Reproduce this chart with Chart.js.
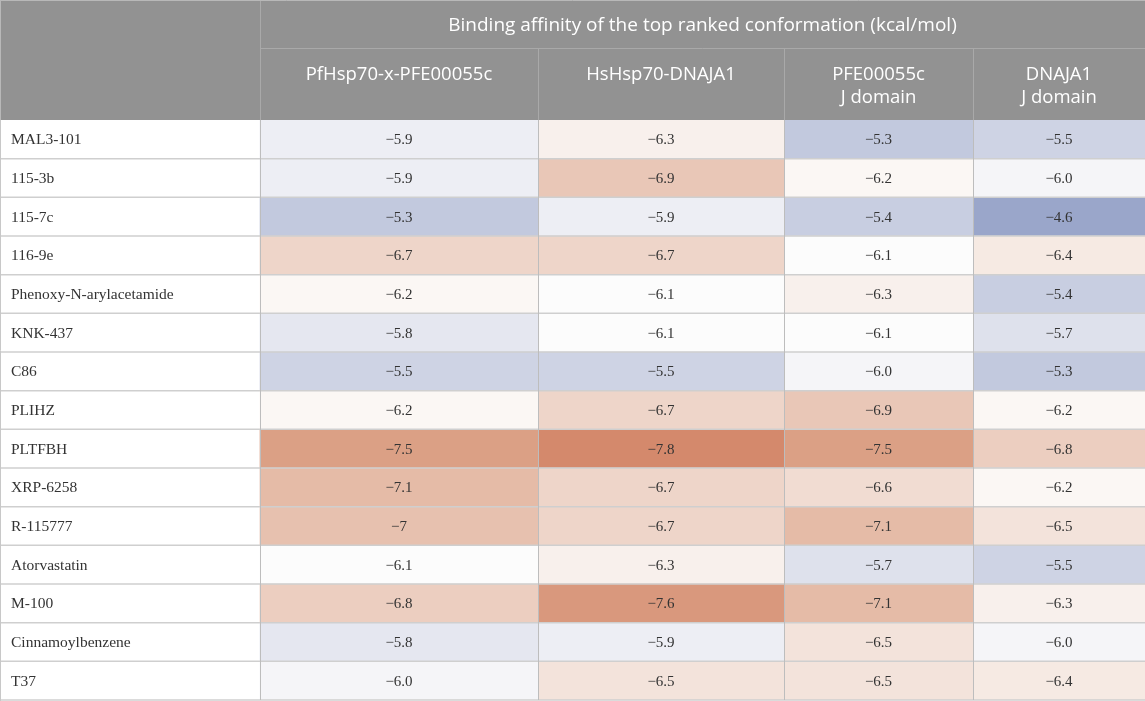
<!DOCTYPE html>
<html>
<head>
<meta charset="utf-8">
<script src="https://cdn.jsdelivr.net/npm/chart.js@4.4.1/dist/chart.umd.min.js"></script>
<style>
  html, body { margin: 0; padding: 0; background: #ffffff; }
  #wrap { width: 1145px; height: 701px; position: relative; }
</style>
</head>
<body>
<div id="wrap"><canvas id="c"></canvas></div>
<script>
// ---------- DATA ----------
const groupTitle = "Binding affinity of the top ranked conformation (kcal/mol)";
const compounds = ["MAL3-101", "115-3b", "115-7c", "116-9e", "Phenoxy-N-arylacetamide", "KNK-437", "C86",
  "PLIHZ", "PLTFBH", "XRP-6258", "R-115777", "Atorvastatin", "M-100", "Cinnamoylbenzene", "T37"];
const columnTitles = [["PfHsp70-x-PFE00055c"], ["HsHsp70-DNAJA1"], ["PFE00055c", "J domain"], ["DNAJA1", "J domain"]];
const pfHsp70xPFE00055c = ["-5.9", "-5.9", "-5.3", "-6.7", "-6.2", "-5.8", "-5.5", "-6.2", "-7.5", "-7.1", "-7", "-6.1", "-6.8", "-5.8", "-6.0"];
const hsHsp70DNAJA1     = ["-6.3", "-6.9", "-5.9", "-6.7", "-6.1", "-6.1", "-5.5", "-6.7", "-7.8", "-6.7", "-6.7", "-6.3", "-7.6", "-5.9", "-6.5"];
const pfe00055cJdomain  = ["-5.3", "-6.2", "-5.4", "-6.1", "-6.3", "-6.1", "-6.0", "-6.9", "-7.5", "-6.6", "-7.1", "-5.7", "-7.1", "-6.5", "-6.5"];
const dnaja1Jdomain     = ["-5.5", "-6.0", "-4.6", "-6.4", "-5.4", "-5.7", "-5.3", "-6.2", "-6.8", "-6.2", "-6.5", "-5.5", "-6.3", "-6.0", "-6.4"];
const seriesValues = [pfHsp70xPFE00055c, hsHsp70DNAJA1, pfe00055cJdomain, dnaja1Jdomain];

// ---------- LAYOUT / STYLE ----------
const W = 1145;
const COL_EDGES = [0, 260, 538, 784, 973, 1145];
const HEADER_H = 120;
const HEADER_ROW1 = 48;
const COLOR_STOPS = [
  [-7.8, [212, 137, 108]],
  [-7.5, [219, 160, 133]],
  [-7.1, [229, 187, 167]],
  [-6.9, [233, 199, 183]],
  [-6.5, [243, 227, 219]],
  [-6.2, [251, 247, 244]],
  [-6.1, [252, 252, 252]],
  [-5.9, [237, 238, 244]],
  [-5.5, [206, 211, 228]],
  [-5.3, [194, 201, 222]],
  [-4.6, [154, 166, 202]]
];
function colorFor(v) {
  if (v <= COLOR_STOPS[0][0]) return `rgb(${COLOR_STOPS[0][1].join(',')})`;
  for (let i = 0; i < COLOR_STOPS.length - 1; i++) {
    const [a, ca] = COLOR_STOPS[i], [b, cb] = COLOR_STOPS[i + 1];
    if (v >= a && v <= b) {
      const t = (v - a) / (b - a);
      const c = ca.map((x, k) => Math.round(x + (cb[k] - x) * t));
      return `rgb(${c.join(',')})`;
    }
  }
  return `rgb(${COLOR_STOPS[COLOR_STOPS.length - 1][1].join(',')})`;
}
const fmt = s => s.replace('-', '\u2212');

const datasets = seriesValues.map((vals, c) => ({
  label: columnTitles[c].join(' '),
  data: vals.map(() => [COL_EDGES[c + 1], COL_EDGES[c + 2]]),
  backgroundColor: vals.map(s => colorFor(parseFloat(s))),
  borderWidth: 0,
  grouped: false,
  barPercentage: 1,
  categoryPercentage: 1
}));

const tablePlugin = {
  id: 'tablePlugin',
  beforeDatasetsDraw(chart) {
    const ctx = chart.ctx;
    ctx.save();
    ctx.fillStyle = '#ffffff';
    ctx.fillRect(0, 0, chart.width, chart.height);
    ctx.restore();
  },
  afterDatasetsDraw(chart) {
    const ctx = chart.ctx;
    const y = chart.scales.y;
    const x = chart.scales.x;
    const n = compounds.length;
    const step = y.getPixelForValue(1) - y.getPixelForValue(0);
    ctx.save();

    // body horizontal lines
    ctx.strokeStyle = '#cfcfcf';
    ctx.lineWidth = 1.5;
    for (let i = 1; i <= n; i++) {
      const yy = y.getPixelForValue(i) - step / 2;
      ctx.beginPath(); ctx.moveTo(0, yy); ctx.lineTo(W, yy); ctx.stroke();
    }
    // body vertical lines
    ctx.strokeStyle = '#bdbdbd';
    ctx.lineWidth = 1;
    for (let k = 1; k < COL_EDGES.length - 1; k++) {
      const xx = x.getPixelForValue(COL_EDGES[k]) + 0.5;
      ctx.beginPath(); ctx.moveTo(xx, HEADER_H); ctx.lineTo(xx, chart.chartArea.bottom); ctx.stroke();
    }
    // left border
    ctx.strokeStyle = '#c8c8c8';
    ctx.beginPath(); ctx.moveTo(0.5, 0); ctx.lineTo(0.5, chart.height); ctx.stroke();

    // row labels
    ctx.fillStyle = '#333333';
    ctx.font = '15.5px "Liberation Serif", "Times New Roman", serif';
    ctx.textBaseline = 'middle';
    ctx.textAlign = 'left';
    compounds.forEach((name, i) => {
      ctx.fillText(name, 11, y.getPixelForValue(i) + 1);
    });

    // values
    ctx.font = '15px "Liberation Serif", "Times New Roman", serif';
    ctx.textAlign = 'center';
    chart.data.datasets.forEach((ds, c) => {
      const meta = chart.getDatasetMeta(c);
      meta.data.forEach((bar, i) => {
        const cx = (bar.x + bar.base) / 2;
        ctx.fillText(fmt(seriesValues[c][i]), cx, bar.y + 1);
      });
    });

    // header
    ctx.fillStyle = '#929292';
    ctx.fillRect(0, 0, W, HEADER_H);
    ctx.strokeStyle = '#a9a9a9';
    ctx.lineWidth = 1;
    ctx.beginPath(); ctx.moveTo(x.getPixelForValue(COL_EDGES[1]), HEADER_ROW1 + 0.5); ctx.lineTo(W, HEADER_ROW1 + 0.5); ctx.stroke();
    ctx.beginPath(); ctx.moveTo(x.getPixelForValue(COL_EDGES[1]) + 0.5, 0); ctx.lineTo(x.getPixelForValue(COL_EDGES[1]) + 0.5, HEADER_H); ctx.stroke();
    for (let k = 2; k < COL_EDGES.length - 1; k++) {
      const xx = x.getPixelForValue(COL_EDGES[k]) + 0.5;
      ctx.beginPath(); ctx.moveTo(xx, HEADER_ROW1); ctx.lineTo(xx, HEADER_H); ctx.stroke();
    }
    ctx.strokeStyle = '#b8b8b8';
    ctx.beginPath(); ctx.moveTo(0, 0.5); ctx.lineTo(W, 0.5); ctx.stroke();
    ctx.beginPath(); ctx.moveTo(0.5, 0); ctx.lineTo(0.5, HEADER_H); ctx.stroke();

    ctx.fillStyle = '#ffffff';
    ctx.font = '19px "Open Sans", "Noto Sans", sans-serif';
    ctx.textAlign = 'center';
    ctx.textBaseline = 'middle';
    const gx = (x.getPixelForValue(COL_EDGES[1]) + x.getPixelForValue(COL_EDGES[5])) / 2;
    ctx.fillText(groupTitle, gx, 26);
    ctx.font = '18.5px "Open Sans", "Noto Sans", sans-serif';
    columnTitles.forEach((lines, c) => {
      const cx = (x.getPixelForValue(COL_EDGES[c + 1]) + x.getPixelForValue(COL_EDGES[c + 2])) / 2;
      if (lines.length === 1) {
        ctx.fillText(lines[0], cx, 75);
      } else {
        ctx.fillText(lines[0], cx, 75);
        ctx.fillText(lines[1], cx, 98);
      }
    });
    ctx.restore();
  }
};

new Chart(document.getElementById('c'), {
  type: 'bar',
  data: { labels: compounds, datasets },
  options: {
    indexAxis: 'y',
    responsive: true,
    maintainAspectRatio: false,
    animation: false,
    devicePixelRatio: 1,
    layout: { padding: { top: HEADER_H, bottom: 1, left: 0, right: 0 } },
    plugins: { legend: { display: false }, tooltip: { enabled: false } },
    scales: {
      x: { type: 'linear', min: 0, max: W, display: false },
      y: { type: 'category', display: false, offset: true }
    }
  },
  plugins: [tablePlugin]
});
</script>
</body>
</html>
